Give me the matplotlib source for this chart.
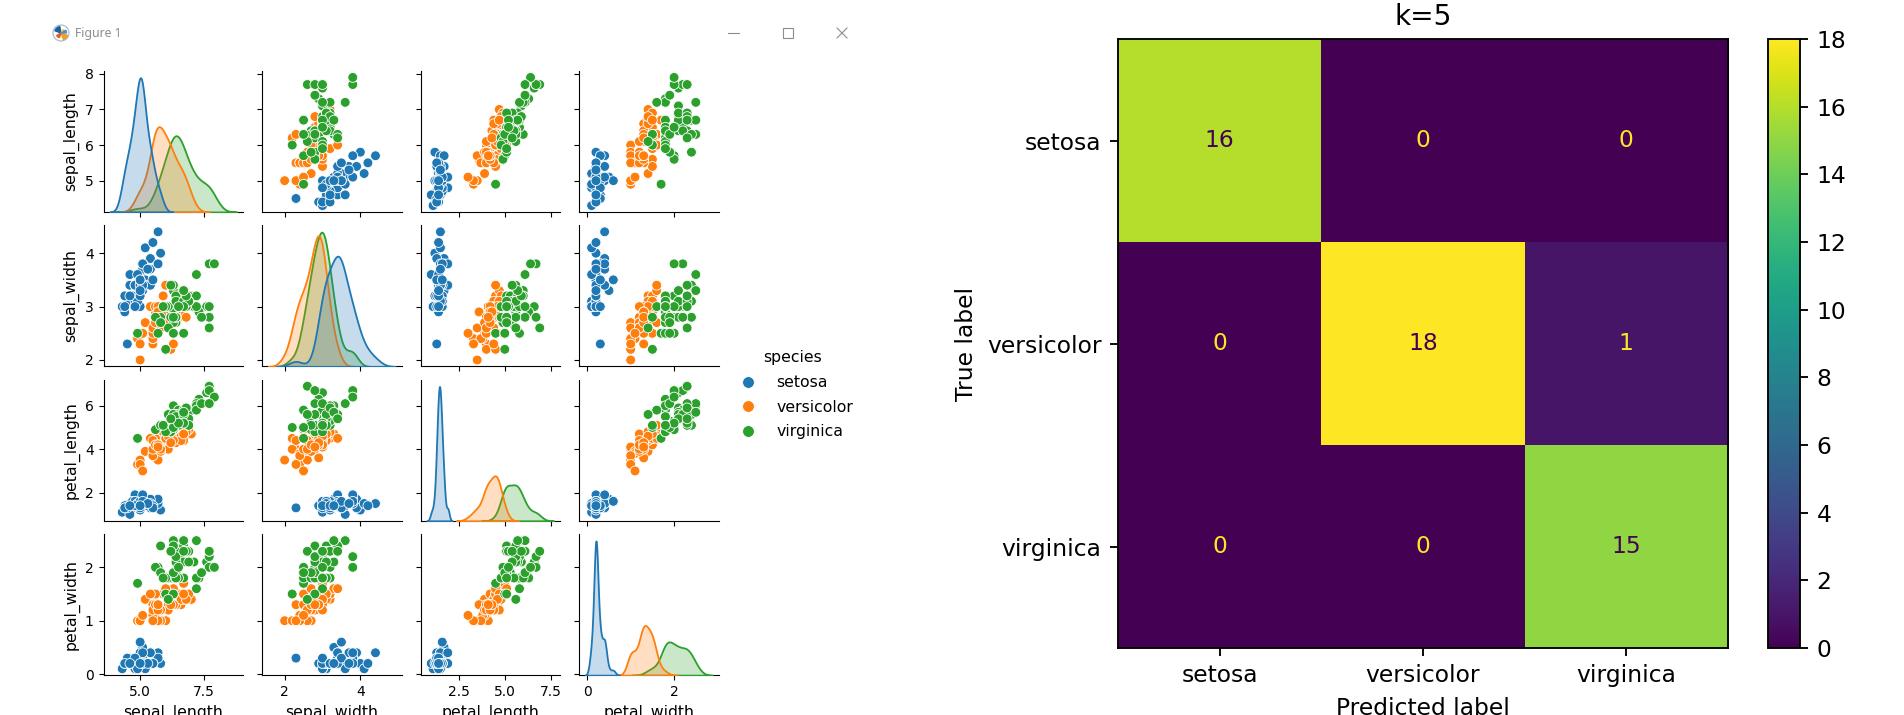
import matplotlib
matplotlib.use('Agg')
import matplotlib.pyplot as plt
from matplotlib.lines import Line2D
from matplotlib.patches import Circle, Wedge, Rectangle
import seaborn as sns

# iris measurements, one list per species and feature
setosa_sepal_length = [5.1, 4.9, 4.7, 4.6, 5.0, 5.4, 4.6, 5.0, 4.4, 4.9, 5.4, 4.8, 4.8, 4.3, 5.8, 5.7, 5.4, 5.1, 5.7, 5.1,
                       5.4, 5.1, 4.6, 5.1, 4.8, 5.0, 5.0, 5.2, 5.2, 4.7, 4.8, 5.4, 5.2, 5.5, 4.9, 5.0, 5.5, 4.9, 4.4, 5.1,
                       5.0, 4.5, 4.4, 5.0, 5.1, 4.8, 5.1, 4.6, 5.3, 5.0]
setosa_sepal_width = [3.5, 3.0, 3.2, 3.1, 3.6, 3.9, 3.4, 3.4, 2.9, 3.1, 3.7, 3.4, 3.0, 3.0, 4.0, 4.4, 3.9, 3.5, 3.8, 3.8,
                      3.4, 3.7, 3.6, 3.3, 3.4, 3.0, 3.4, 3.5, 3.4, 3.2, 3.1, 3.4, 4.1, 4.2, 3.1, 3.2, 3.5, 3.6, 3.0, 3.4,
                      3.5, 2.3, 3.2, 3.5, 3.8, 3.0, 3.8, 3.2, 3.7, 3.3]
setosa_petal_length = [1.4, 1.4, 1.3, 1.5, 1.4, 1.7, 1.4, 1.5, 1.4, 1.5, 1.5, 1.6, 1.4, 1.1, 1.2, 1.5, 1.3, 1.4, 1.7, 1.5,
                       1.7, 1.5, 1.0, 1.7, 1.9, 1.6, 1.6, 1.5, 1.4, 1.6, 1.6, 1.5, 1.5, 1.4, 1.5, 1.2, 1.3, 1.4, 1.3, 1.5,
                       1.3, 1.3, 1.3, 1.6, 1.9, 1.4, 1.6, 1.4, 1.5, 1.4]
setosa_petal_width = [0.2, 0.2, 0.2, 0.2, 0.2, 0.4, 0.3, 0.2, 0.2, 0.1, 0.2, 0.2, 0.1, 0.1, 0.2, 0.4, 0.4, 0.3, 0.3, 0.3,
                      0.2, 0.4, 0.2, 0.5, 0.2, 0.2, 0.4, 0.2, 0.2, 0.2, 0.2, 0.4, 0.1, 0.2, 0.2, 0.2, 0.2, 0.1, 0.2, 0.2,
                      0.3, 0.3, 0.2, 0.6, 0.4, 0.3, 0.2, 0.2, 0.2, 0.2]

versicolor_sepal_length = [7.0, 6.4, 6.9, 5.5, 6.5, 5.7, 6.3, 4.9, 6.6, 5.2, 5.0, 5.9, 6.0, 6.1, 5.6, 6.7, 5.6, 5.8, 6.2, 5.6,
                           5.9, 6.1, 6.3, 6.1, 6.4, 6.6, 6.8, 6.7, 6.0, 5.7, 5.5, 5.5, 5.8, 6.0, 5.4, 6.0, 6.7, 6.3, 5.6, 5.5,
                           5.5, 6.1, 5.8, 5.0, 5.6, 5.7, 5.7, 6.2, 5.1, 5.7]
versicolor_sepal_width = [3.2, 3.2, 3.1, 2.3, 2.8, 2.8, 3.3, 2.4, 2.9, 2.7, 2.0, 3.0, 2.2, 2.9, 2.9, 3.1, 3.0, 2.7, 2.2, 2.5,
                          3.2, 2.8, 2.5, 2.8, 2.9, 3.0, 2.8, 3.0, 2.9, 2.6, 2.4, 2.4, 2.7, 2.7, 3.0, 3.4, 3.1, 2.3, 3.0, 2.5,
                          2.6, 3.0, 2.6, 2.3, 2.7, 3.0, 2.9, 2.9, 2.5, 2.8]
versicolor_petal_length = [4.7, 4.5, 4.9, 4.0, 4.6, 4.5, 4.7, 3.3, 4.6, 3.9, 3.5, 4.2, 4.0, 4.7, 3.6, 4.4, 4.5, 4.1, 4.5, 3.9,
                           4.8, 4.0, 4.9, 4.7, 4.3, 4.4, 4.8, 5.0, 4.5, 3.5, 3.8, 3.7, 3.9, 5.1, 4.5, 4.5, 4.7, 4.4, 4.1, 4.0,
                           4.4, 4.6, 4.0, 3.3, 4.2, 4.2, 4.2, 4.3, 3.0, 4.1]
versicolor_petal_width = [1.4, 1.5, 1.5, 1.3, 1.5, 1.3, 1.6, 1.0, 1.3, 1.4, 1.0, 1.5, 1.0, 1.4, 1.3, 1.4, 1.5, 1.0, 1.5, 1.1,
                          1.8, 1.3, 1.5, 1.2, 1.3, 1.4, 1.4, 1.7, 1.5, 1.0, 1.1, 1.0, 1.2, 1.6, 1.5, 1.6, 1.5, 1.3, 1.3, 1.3,
                          1.2, 1.4, 1.2, 1.0, 1.3, 1.2, 1.3, 1.3, 1.1, 1.3]

virginica_sepal_length = [6.3, 5.8, 7.1, 6.3, 6.5, 7.6, 4.9, 7.3, 6.7, 7.2, 6.5, 6.4, 6.8, 5.7, 5.8, 6.4, 6.5, 7.7, 7.7, 6.0,
                          6.9, 5.6, 7.7, 6.3, 6.7, 7.2, 6.2, 6.1, 6.4, 7.2, 7.4, 7.9, 6.4, 6.3, 6.1, 7.7, 6.3, 6.4, 6.0, 6.9,
                          6.7, 6.9, 5.8, 6.8, 6.7, 6.7, 6.3, 6.5, 6.2, 5.9]
virginica_sepal_width = [3.3, 2.7, 3.0, 2.9, 3.0, 3.0, 2.5, 2.9, 2.5, 3.6, 3.2, 2.7, 3.0, 2.5, 2.8, 3.2, 3.0, 3.8, 2.6, 2.2,
                         3.2, 2.8, 2.8, 2.7, 3.3, 3.2, 2.8, 3.0, 2.8, 3.0, 2.8, 3.8, 2.8, 2.8, 2.6, 3.0, 3.4, 3.1, 3.0, 3.1,
                         3.1, 3.1, 2.7, 3.2, 3.3, 3.0, 2.5, 3.0, 3.4, 3.0]
virginica_petal_length = [6.0, 5.1, 5.9, 5.6, 5.8, 6.6, 4.5, 6.3, 5.8, 6.1, 5.1, 5.3, 5.5, 5.0, 5.1, 5.3, 5.5, 6.7, 6.9, 5.0,
                          5.7, 4.9, 6.7, 4.9, 5.7, 6.0, 4.8, 4.9, 5.6, 5.8, 6.1, 6.4, 5.6, 5.1, 5.6, 6.1, 5.6, 5.5, 4.8, 5.4,
                          5.6, 5.1, 5.1, 5.9, 5.7, 5.2, 5.0, 5.2, 5.4, 5.1]
virginica_petal_width = [2.5, 1.9, 2.1, 1.8, 2.2, 2.1, 1.7, 1.8, 1.8, 2.5, 2.0, 1.9, 2.1, 2.0, 2.4, 2.3, 1.8, 2.2, 2.3, 1.5,
                         2.3, 2.0, 2.0, 1.8, 2.1, 1.8, 1.8, 1.8, 2.1, 1.6, 1.9, 2.0, 2.2, 1.5, 1.4, 2.3, 2.4, 1.8, 1.8, 2.1,
                         2.4, 2.3, 1.9, 2.3, 2.5, 2.3, 1.9, 2.0, 2.3, 1.8]

species_names = ['setosa', 'versicolor', 'virginica']
features = ['sepal_length', 'sepal_width', 'petal_length', 'petal_width']
palette = ['#1f77b4', '#ff7f0e', '#2ca02c']

sepal_length_ticks = [5.0, 7.5]
sepal_width_ticks = [2, 4]
petal_length_ticks = [2.5, 5.0, 7.5]
petal_width_ticks = [0, 2]
sepal_length_yticks = [5, 6, 7, 8]
sepal_width_yticks = [2, 3, 4]
petal_length_yticks = [2, 4, 6]
petal_width_yticks = [0, 1, 2]

# knn result (k=5) on the test split
class_labels = ['setosa', 'versicolor', 'virginica']
confusion = [[16, 0, 0],
             [0, 18, 1],
             [0, 0, 15]]
cbar_ticks = [0, 2, 4, 6, 8, 10, 12, 14, 16, 18]

columns = [setosa_sepal_length + versicolor_sepal_length + virginica_sepal_length,
           setosa_sepal_width + versicolor_sepal_width + virginica_sepal_width,
           setosa_petal_length + versicolor_petal_length + virginica_petal_length,
           setosa_petal_width + versicolor_petal_width + virginica_petal_width]
hue = [name for name in species_names for _ in range(50)]
xticks = [sepal_length_ticks, sepal_width_ticks, petal_length_ticks, petal_width_ticks]
yticks = [sepal_length_yticks, sepal_width_yticks, petal_length_yticks, petal_width_yticks]

W, H = 1904, 715
fig = plt.figure(figsize=(W / 100, H / 100), dpi=100)


def px_box(left, top, right, bottom):
    return [left / W, 1 - bottom / H, (right - left) / W, (bottom - top) / H]


# window chrome of the screenshot on the left
ov = fig.add_axes([0, 0, 1, 1], zorder=-5)
ov.set_xlim(0, W)
ov.set_ylim(H, 0)
ov.axis('off')
ov.add_patch(Circle((61, 33), 8, fill=False, ec='#9fb6cc', lw=0.8))
for a0, a1, r, c in [(20, 70, 7, '#f0a030'), (110, 150, 5, '#e06020'), (200, 260, 6.5, '#2060a0'),
                     (300, 340, 4, '#f0d040'), (-30, 0, 5.5, '#5090c0')]:
    ov.add_patch(Wedge((61, 33), r, a0, a1, color=c))
ov.text(75, 33, 'Figure 1', fontsize=8.8, color='#8c8c8c', va='center', ha='left', family='Noto Sans')
ov.plot([728, 739], [33, 33], color='#8c8c8c', lw=0.8)
ov.add_patch(Rectangle((783, 28), 10, 10, fill=False, ec='#8c8c8c', lw=0.8))
ov.plot([837, 847], [28, 38], color='#8c8c8c', lw=0.8)
ov.plot([837, 847], [38, 28], color='#8c8c8c', lw=0.8)

# pair plot
col_left = [103.5 + j * 158.5 for j in range(4)]
row_top = [71 + i * 154.4 for i in range(4)]
cw, rh = 139.5, 141

axes = [[None] * 4 for _ in range(4)]
for i in range(4):
    for j in range(4):
        ax = fig.add_axes(px_box(col_left[j], row_top[i], col_left[j] + cw, row_top[i] + rh),
                          sharex=axes[0][j] if i > 0 else None,
                          sharey=axes[i][0] if j > 0 else None)
        axes[i][j] = ax
        if i == j:
            tw = ax.twinx()
            sns.kdeplot(x=columns[i], hue=hue, hue_order=species_names, palette=palette,
                        fill=True, legend=False, linewidth=1.3, ax=tw)
            tw.set_axis_off()
        else:
            sns.scatterplot(x=columns[j], y=columns[i], hue=hue, hue_order=species_names,
                            palette=palette, s=50, edgecolor='white', linewidth=0.6,
                            legend=False, ax=ax)
        ax.spines[['top', 'right']].set_visible(False)
        ax.set_xticks(xticks[j])
        ax.set_yticks(yticks[i])
        ax.tick_params(labelsize=10, labelbottom=(i == 3), labelleft=(j == 0))
        if i == 3:
            ax.set_xlabel(features[j], fontsize=11.3)
        if j == 0:
            ax.set_ylabel(features[i], fontsize=11.3)

handles = [Line2D([], [], ls='', marker='o', ms=8.5, mfc=c, mec='white', mew=0.6) for c in palette]
fig.legend(handles, species_names, title='species', loc='upper left', frameon=False,
           bbox_to_anchor=(726 / W, 1 - 344 / H), borderaxespad=0,
           fontsize=11.3, title_fontsize=11.3, labelspacing=0.62)

# confusion matrix, drawn at 1.68x the default sizes
S = 1.68
fs = 10 * S
axc = fig.add_axes(px_box(1118, 39, 1728, 648))
im = axc.imshow(confusion, cmap='viridis', interpolation='nearest', aspect='auto')
cmap = im.cmap
thresh = (max(max(r) for r in confusion) + min(min(r) for r in confusion)) / 2
for i, row in enumerate(confusion):
    for j, v in enumerate(row):
        axc.text(j, i, str(v), ha='center', va='center', fontsize=fs,
                 color=cmap(1.0) if v < thresh else cmap(0))
axc.set_xticks(range(3), labels=class_labels)
axc.set_yticks(range(3), labels=class_labels)
axc.tick_params(labelsize=fs, length=3.5 * S, width=0.8 * S, pad=3.5 * S)
axc.set_xlabel('Predicted label', fontsize=fs, labelpad=4 * S)
axc.set_ylabel('True label', fontsize=fs, labelpad=4 * S)
axc.set_title('k=5', fontsize=12 * S, pad=6 * S)
for sp in axc.spines.values():
    sp.set_linewidth(0.8 * S)

cax = fig.add_axes(px_box(1768, 39, 1800, 648))
cb = fig.colorbar(im, cax=cax, ticks=cbar_ticks)
cb.outline.set_linewidth(0.8 * S)
cax.tick_params(labelsize=fs, length=3.5 * S, width=0.8 * S, pad=3.5 * S)

fig.savefig('out.png', dpi=100)
